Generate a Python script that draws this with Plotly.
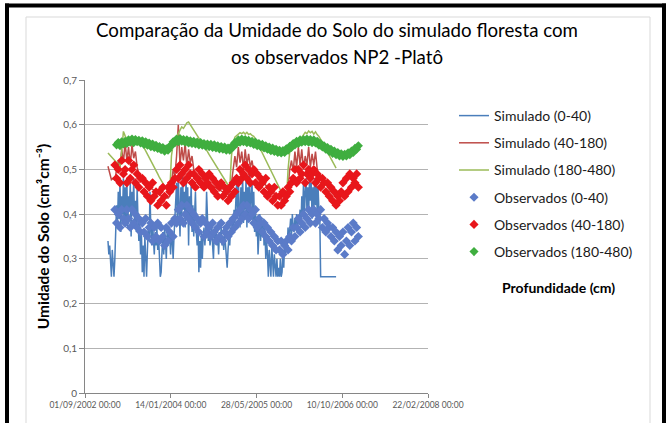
import pandas as pd
import plotly.graph_objects as go

# values; simulated 0-40 every 5 days, the rest every 10 days
sim_start = "2003-01-13"
obs_start = "2003-02-22"
obs_green_start = "2003-03-04"

sim_0_40 = [
    0.34, 0.31, 0.33, 0.28, 0.26, 0.32, 0.27, 0.26, 0.30, 0.35, 0.42, 0.37, 0.45, 0.39, 0.47, 0.36, 0.44, 0.40, 0.48, 0.38,
    0.46, 0.39, 0.48, 0.37, 0.44, 0.41, 0.47, 0.35, 0.45, 0.40, 0.48, 0.38, 0.43, 0.36, 0.46, 0.39, 0.34, 0.38, 0.31, 0.36,
    0.27, 0.33, 0.26, 0.35, 0.29, 0.26, 0.32, 0.37, 0.34, 0.45, 0.36, 0.33, 0.38, 0.34, 0.31, 0.36, 0.33, 0.37, 0.32, 0.35,
    0.28, 0.26, 0.27, 0.33, 0.36, 0.31, 0.37, 0.34, 0.30, 0.36, 0.33, 0.37, 0.35, 0.31, 0.36, 0.34, 0.30, 0.35, 0.40, 0.44,
    0.47, 0.38, 0.48, 0.42, 0.35, 0.46, 0.39, 0.49, 0.41, 0.45, 0.37, 0.48, 0.40, 0.46, 0.33, 0.44, 0.39, 0.47, 0.36, 0.42,
    0.35, 0.40, 0.45, 0.36, 0.33, 0.38, 0.27, 0.34, 0.28, 0.36, 0.30, 0.35, 0.37, 0.33, 0.36, 0.45, 0.38, 0.34, 0.36, 0.33,
    0.35, 0.37, 0.33, 0.30, 0.36, 0.34, 0.37, 0.33, 0.35, 0.31, 0.36, 0.34, 0.37, 0.33, 0.35, 0.32, 0.36, 0.33, 0.30, 0.28,
    0.32, 0.35, 0.33, 0.37, 0.35, 0.39, 0.36, 0.41, 0.38, 0.43, 0.47, 0.39, 0.48, 0.41, 0.37, 0.46, 0.40, 0.49, 0.38, 0.45,
    0.41, 0.48, 0.37, 0.46, 0.40, 0.49, 0.39, 0.44, 0.47, 0.38, 0.45, 0.36, 0.41, 0.35, 0.39, 0.31, 0.37, 0.40, 0.34, 0.38,
    0.35, 0.39, 0.33, 0.37, 0.30, 0.34, 0.31, 0.26, 0.32, 0.28, 0.26, 0.33, 0.29, 0.26, 0.31, 0.27, 0.26, 0.30, 0.26, 0.28,
    0.26, 0.30, 0.26, 0.27, 0.32, 0.28, 0.34, 0.31, 0.35, 0.33, 0.37, 0.34, 0.36, 0.39, 0.35, 0.40, 0.37, 0.36, 0.39, 0.37,
    0.40, 0.36, 0.39, 0.38, 0.41, 0.37, 0.44, 0.40, 0.47, 0.39, 0.45, 0.48, 0.41, 0.46, 0.40, 0.48, 0.43, 0.47, 0.39, 0.46,
    0.41, 0.48, 0.42, 0.47, 0.40, 0.46, 0.41, 0.40,
    0.26, 0.26, 0.26, 0.26, 0.26, 0.26, 0.26, 0.26, 0.26, 0.26, 0.26, 0.26, 0.26, 0.26, 0.26, 0.26, 0.26, 0.26, 0.26,
]

sim_40_180 = [
    0.507, 0.490, 0.477, 0.480, 0.475, 0.500, 0.520, 0.505, 0.545, 0.515,
    0.560, 0.520, 0.550, 0.510, 0.555, 0.525, 0.540, 0.505, 0.490, 0.485,
    0.478, 0.472, 0.470, 0.465, 0.462, 0.458, 0.455, 0.452, 0.449, 0.446,
    0.444, 0.442, 0.440, 0.438, 0.437, 0.436, 0.440, 0.470, 0.500, 0.485,
    0.530, 0.600, 0.510, 0.550, 0.520, 0.560, 0.505, 0.545, 0.515, 0.530,
    0.500, 0.490, 0.487, 0.483, 0.480, 0.478, 0.475, 0.473, 0.471, 0.468,
    0.466, 0.463, 0.461, 0.459, 0.456, 0.454, 0.452, 0.450, 0.448, 0.446,
    0.444, 0.443, 0.470, 0.500, 0.530, 0.505, 0.550, 0.515, 0.540, 0.500,
    0.545, 0.510, 0.535, 0.505, 0.520, 0.495, 0.488, 0.484, 0.480, 0.476,
    0.472, 0.468, 0.464, 0.460, 0.456, 0.452, 0.448, 0.445, 0.442, 0.439,
    0.436, 0.434, 0.432, 0.430, 0.429, 0.460, 0.500, 0.520, 0.495, 0.540,
    0.505, 0.550, 0.510, 0.545, 0.500, 0.530, 0.510, 0.550, 0.505, 0.535,
    0.510, 0.540, 0.500, 0.490, 0.484, 0.478, 0.472, 0.466, 0.460, 0.455,
    0.450, 0.446, 0.442, 0.438,
]

sim_180_480 = [
    0.537, 0.533, 0.528, 0.524, 0.520, 0.516, 0.512, 0.507, 0.540, 0.585,
    0.575, 0.568, 0.572, 0.565, 0.569, 0.563, 0.566, 0.562, 0.564, 0.563,
    0.556, 0.549, 0.542, 0.534, 0.527, 0.519, 0.512, 0.505, 0.497, 0.490,
    0.482, 0.475, 0.468, 0.461, 0.455, 0.450, 0.447, 0.530, 0.556, 0.565,
    0.572, 0.580, 0.588, 0.595, 0.592, 0.598, 0.604, 0.606, 0.600, 0.596,
    0.590, 0.585, 0.577, 0.571, 0.564, 0.558, 0.552, 0.546, 0.540, 0.533,
    0.527, 0.521, 0.515, 0.509, 0.502, 0.496, 0.490, 0.484, 0.478, 0.471,
    0.465, 0.459, 0.530, 0.560, 0.572, 0.575, 0.578, 0.582, 0.580, 0.583,
    0.579, 0.583, 0.578, 0.580, 0.576, 0.574, 0.568, 0.560, 0.552, 0.545,
    0.537, 0.529, 0.521, 0.513, 0.506, 0.498, 0.490, 0.482, 0.474, 0.466,
    0.458, 0.451, 0.443, 0.435, 0.427, 0.500, 0.540, 0.550, 0.553, 0.556,
    0.558, 0.560, 0.566, 0.572, 0.578, 0.583, 0.580, 0.586, 0.582, 0.585,
    0.579, 0.584, 0.578, 0.574, 0.567, 0.560, 0.553, 0.545, 0.538, 0.531,
    0.524, 0.517, 0.510, 0.503,
]

obs_0_40 = [
    0.41, 0.38, 0.40, 0.37, 0.41, 0.39,
    0.38, 0.41, 0.39, 0.37, 0.41, 0.38, 0.40, 0.37, 0.39, 0.36,
    0.38, 0.36, 0.39, 0.35, 0.37, 0.38, 0.34, 0.37, 0.35, 0.38,
    0.34, 0.37, 0.35, 0.33, 0.37, 0.34, 0.36, 0.38, 0.35, 0.39,
    0.38, 0.41, 0.39, 0.42, 0.38, 0.40, 0.42, 0.39, 0.41, 0.38,
    0.40, 0.37, 0.39, 0.36, 0.38, 0.39, 0.35, 0.38, 0.36, 0.37,
    0.35, 0.38, 0.36, 0.34, 0.37, 0.35, 0.38, 0.34, 0.36, 0.37,
    0.35, 0.38, 0.36, 0.39, 0.37, 0.40, 0.38, 0.41, 0.39, 0.42,
    0.40, 0.42, 0.39, 0.41, 0.40, 0.38, 0.41, 0.37, 0.39, 0.38,
    0.36, 0.38, 0.35, 0.37, 0.34, 0.36, 0.33, 0.35, 0.32, 0.34,
    0.32, 0.34, 0.31, 0.33, 0.34, 0.32, 0.35, 0.34, 0.37, 0.35,
    0.37, 0.39, 0.36, 0.38, 0.40, 0.37, 0.39, 0.41, 0.38, 0.40,
    0.41, 0.38, 0.40, 0.39, 0.41, 0.37, 0.39, 0.36, 0.38, 0.37,
    0.35, 0.37, 0.34, 0.36, 0.32, 0.35, 0.33, 0.36, 0.31, 0.34,
    0.37, 0.33, 0.36, 0.38, 0.34, 0.37, 0.35,
]

obs_40_180 = [
    0.51, 0.48, 0.50, 0.47, 0.52, 0.49,
    0.50, 0.47, 0.52, 0.48, 0.50, 0.51, 0.47, 0.49, 0.46, 0.48,
    0.48, 0.45, 0.47, 0.44, 0.46, 0.43, 0.47, 0.44, 0.45, 0.42,
    0.45, 0.43, 0.46, 0.44, 0.42, 0.46, 0.45, 0.47, 0.46, 0.48,
    0.50, 0.48, 0.51, 0.49, 0.47, 0.50, 0.48, 0.51, 0.49, 0.47,
    0.49, 0.46, 0.48, 0.50, 0.47, 0.49, 0.46, 0.48, 0.47, 0.49,
    0.46, 0.48, 0.45, 0.47, 0.44, 0.46, 0.47, 0.44, 0.46, 0.45,
    0.43, 0.46, 0.44, 0.47, 0.45, 0.48, 0.47, 0.50, 0.48, 0.49,
    0.51, 0.48, 0.50, 0.47, 0.49, 0.50, 0.47, 0.49, 0.46, 0.48,
    0.47, 0.45, 0.48, 0.44, 0.46, 0.45, 0.43, 0.46, 0.44, 0.42,
    0.44, 0.42, 0.45, 0.43, 0.44, 0.46, 0.45, 0.47, 0.48, 0.50,
    0.47, 0.50, 0.48, 0.49, 0.51, 0.47, 0.49, 0.50, 0.48, 0.49,
    0.50, 0.47, 0.49, 0.48, 0.46, 0.48, 0.47, 0.45, 0.47, 0.44,
    0.46, 0.43, 0.45, 0.42, 0.44, 0.43, 0.45, 0.47, 0.44, 0.48,
    0.45, 0.49, 0.46, 0.48, 0.47, 0.49, 0.46,
]

obs_180_480 = [
    0.555, 0.560, 0.553, 0.562, 0.557,
    0.563, 0.558, 0.566, 0.561, 0.568, 0.560, 0.567, 0.562, 0.565, 0.559,
    0.564, 0.556, 0.562, 0.554, 0.559, 0.551, 0.557, 0.549, 0.554, 0.547,
    0.551, 0.544, 0.549, 0.541, 0.546, 0.543, 0.552, 0.553, 0.562, 0.560,
    0.568, 0.562, 0.569, 0.563, 0.567, 0.561, 0.566, 0.559, 0.564, 0.558,
    0.563, 0.557, 0.561, 0.555, 0.560, 0.554, 0.558, 0.552, 0.557, 0.551,
    0.556, 0.549, 0.555, 0.548, 0.553, 0.546, 0.551, 0.545, 0.550, 0.543,
    0.548, 0.543, 0.551, 0.550, 0.560, 0.558, 0.566, 0.561, 0.568, 0.562,
    0.567, 0.560, 0.565, 0.559, 0.563, 0.556, 0.561, 0.553, 0.558, 0.551,
    0.556, 0.548, 0.553, 0.545, 0.550, 0.542, 0.548, 0.540, 0.545, 0.538,
    0.543, 0.537, 0.542, 0.538, 0.546, 0.543, 0.552, 0.549, 0.558, 0.555,
    0.563, 0.558, 0.566, 0.561, 0.567, 0.562, 0.568, 0.561, 0.567, 0.560,
    0.566, 0.559, 0.563, 0.554, 0.558, 0.550, 0.553, 0.545, 0.549, 0.540,
    0.545, 0.536, 0.541, 0.533, 0.538, 0.530, 0.535, 0.529, 0.534, 0.530,
    0.537, 0.533, 0.541, 0.538, 0.547, 0.545, 0.553,
]

y_ticks = [0, 0.1, 0.2, 0.3, 0.4, 0.5, 0.6, 0.7]
y_tick_text = ["0", "0,1", "0,2", "0,3", "0,4", "0,5", "0,6", "0,7"]


def dates(start, vals, step="10D"):
    return pd.date_range(start, periods=len(vals), freq=step)


W, H = 671, 423
ML, MR, MT, MB = 85, 243, 80, 30
PW, PH = W - ML - MR, H - MT - MB


def px(x):
    return (x - ML) / PW


def py(y):
    return (H - MB - y) / PH


font = "Lato, 'Liberation Sans', sans-serif"

fig = go.Figure()
lines = [
    ("Simulado (0-40)", sim_0_40, "#4A7EBB", "5D"),
    ("Simulado (40-180)", sim_40_180, "#BE4B48", "10D"),
    ("Simulado (180-480)", sim_180_480, "#9BBB59", "10D"),
]
for name, vals, col, step in lines:
    fig.add_trace(go.Scatter(
        x=dates(sim_start, vals, step), y=vals, name=name, mode="lines",
        line=dict(color=col, width=1.5), legendgroup=name,
    ))

points = [
    ("Observados (0-40)", obs_start, obs_0_40, "#5B7BC8"),
    ("Observados (40-180)", obs_start, obs_40_180, "#E8161B"),
    ("Observados (180-480)", obs_green_start, obs_180_480, "#3FAE3F"),
]
for name, start, vals, col in points:
    fig.add_trace(go.Scatter(
        x=dates(start, vals), y=vals, name=name, mode="markers",
        marker=dict(symbol="diamond", size=7, color=col), legendgroup=name,
    ))

grey = "#868686"
fig.update_xaxes(
    type="date", range=["2002-09-01", "2008-02-22"],
    tick0="2002-09-01", dtick=500 * 86400000, tickformat="%d/%m/%Y %H:%M",
    showgrid=False, showline=True, linecolor=grey, linewidth=1,
    ticks="outside", ticklen=4, tickcolor=grey,
    tickfont=dict(family=font, size=8.5, color="#595959"), zeroline=False,
)
fig.update_yaxes(
    range=[0, 0.7], tickvals=y_ticks, ticktext=y_tick_text,
    showgrid=True, gridcolor="#B3B3B3", gridwidth=1,
    showline=True, linecolor=grey, linewidth=1,
    ticks="outside", ticklen=5, tickcolor=grey,
    tickfont=dict(family=font, size=10, color="#595959"), zeroline=False,
    title=dict(text="Umidade do Solo (cm³cm⁻³)",
               font=dict(family=font, size=15.5, color="#000000", weight="bold"),
               standoff=9),
)

shapes = [
    # chart area border
    dict(type="rect", xref="paper", yref="paper",
         x0=px(26), x1=px(650), y0=py(430), y1=py(17),
         line=dict(color="#D9D9D9", width=1), layer="below"),
    # black frame
    dict(type="rect", xref="paper", yref="paper",
         x0=px(5), x1=px(666), y0=py(3.5), y1=py(7.5),
         fillcolor="black", line=dict(width=0)),
    dict(type="rect", xref="paper", yref="paper",
         x0=px(5), x1=px(9), y0=py(423), y1=py(3.5),
         fillcolor="black", line=dict(width=0)),
    dict(type="rect", xref="paper", yref="paper",
         x0=px(662), x1=px(666), y0=py(423), y1=py(3.5),
         fillcolor="black", line=dict(width=0)),
]

title_font = dict(family=font, size=18.7, color="#000000")

fig.update_layout(
    width=W, height=H,
    margin=dict(l=ML, r=MR, t=MT, b=MB),
    paper_bgcolor="white", plot_bgcolor="white",
    font=dict(family=font),
    title=dict(
        text="Comparação da Umidade do Solo do simulado floresta com",
        x=337 / W, xanchor="center", xref="container",
        y=1 - 30 / H, yanchor="middle", yref="container",
        font=title_font,
    ),
    legend=dict(
        x=px(454), y=py(100), xanchor="left", yanchor="top",
        font=dict(family=font, size=14, color="#1A1A1A"),
        itemwidth=30, tracegroupgap=6, bgcolor="rgba(0,0,0,0)",
    ),
    shapes=shapes,
    annotations=[
        dict(text="os observados NP2 -Platô", xref="paper", yref="paper",
             x=px(337), y=py(57), xanchor="center", yanchor="middle",
             showarrow=False, font=title_font),
        dict(text="Profundidade (cm)", xref="paper", yref="paper",
             x=px(558), y=py(287), xanchor="center", yanchor="middle",
             showarrow=False,
             font=dict(family=font, size=14, color="#000000", weight="bold")),
    ],
    showlegend=True,
)

fig.write_html("out.html", config={"displayModeBar": False},
               post_script="document.body.style.margin='0';")
